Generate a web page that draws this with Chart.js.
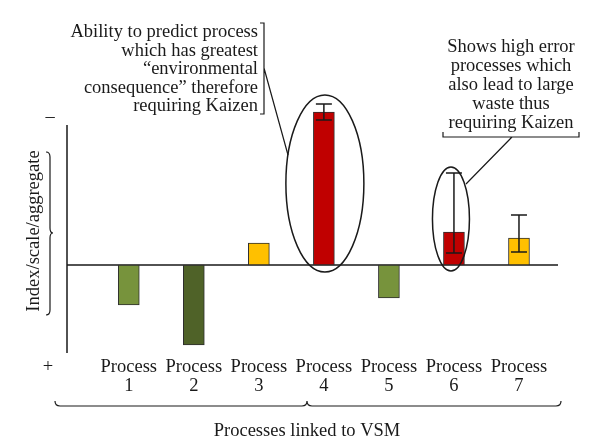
<!DOCTYPE html>
<html>
<head>
<meta charset="utf-8">
<script src="https://cdn.jsdelivr.net/npm/chart.js@4/dist/chart.umd.min.js"></script>
<style>
  html, body { margin: 0; padding: 0; background: #fff; }
  #wrap { width: 600px; height: 448px; }
</style>
</head>
<body>
<div id="wrap"><canvas id="vsmChart" width="600" height="448"></canvas></div>
<script>
// ** data (arbitrary index units, 0 = baseline)
const processes = ['1', '2', '3', '4', '5', '6', '7'];
const values = [-40, -80, 22, 153, -33, 33, 27];
const errLow = [null, null, null, 145, null, 12, 13];
const errHigh = [null, null, null, 161, null, 92, 50];
const barColors = ['#77933c', '#4f6228', '#ffc000', '#c00000', '#77933c', '#c00000', '#ffc000'];
const noteLeft = ['Ability to predict process', 'which has greatest', '\u201Cenvironmental', 'consequence\u201D therefore', 'requiring Kaizen'];
const noteRight = ['Shows high error', 'processes which', 'also lead to large', 'waste thus', 'requiring Kaizen'];
const yTitle = 'Index/scale/aggregate';
const xTitle = 'Processes linked to VSM';
const tickWord = 'Process';

const Y_MIN = -88, Y_MAX = 170, Y_AXIS_TOP = 140;
const FONT = '18.5px "Liberation Serif", "DejaVu Serif", serif';
const INK = '#1a1a1a';

// Function to draw the error whiskers, axis, callouts and texts
const decorations = {
    id: 'decorations',
    beforeDatasetsDraw(chart) {
        const { ctx, chartArea, scales } = chart;
        const y0 = scales.y.getPixelForValue(0);
        ctx.save();
        ctx.strokeStyle = INK;
        ctx.lineWidth = 1.5;
        ctx.beginPath();
        ctx.moveTo(chartArea.left, y0);
        ctx.lineTo(chartArea.right, y0);
        // vertical axis
        ctx.moveTo(chartArea.left, scales.y.getPixelForValue(Y_AXIS_TOP));
        ctx.lineTo(chartArea.left, scales.y.getPixelForValue(Y_MIN));
        ctx.stroke();
        ctx.restore();
    },
    afterDatasetsDraw(chart) {
        const { ctx, scales } = chart;
        const x = scales.x, y = scales.y;
        ctx.save();
        ctx.strokeStyle = INK;
        ctx.lineWidth = 1.5;

        // error bars
        values.forEach((v, i) => {
            if (errLow[i] == null) return;
            const px = x.getPixelForValue(i + 1);
            const lo = y.getPixelForValue(errLow[i]);
            const hi = y.getPixelForValue(errHigh[i]);
            ctx.beginPath();
            ctx.moveTo(px, lo); ctx.lineTo(px, hi);
            ctx.moveTo(px - 8, lo); ctx.lineTo(px + 8, lo);
            ctx.moveTo(px - 8, hi); ctx.lineTo(px + 8, hi);
            ctx.stroke();
        });

        // ellipses round process 4 and 6
        ctx.beginPath();
        ctx.ellipse(x.getPixelForValue(4) + 1, 183.5, 39, 88.5, 0, 0, Math.PI * 2);
        ctx.stroke();
        ctx.beginPath();
        ctx.ellipse(x.getPixelForValue(6) - 3, 219, 18.5, 52, 0, 0, Math.PI * 2);
        ctx.stroke();

        // callout brackets and leader lines
        ctx.lineWidth = 1.2;
        ctx.beginPath();
        ctx.moveTo(260, 23); ctx.lineTo(264, 23); ctx.lineTo(264, 114); ctx.lineTo(260, 114);
        ctx.moveTo(264, 68); ctx.lineTo(288, 155);
        ctx.moveTo(443, 132); ctx.lineTo(443, 137); ctx.lineTo(579, 137); ctx.lineTo(579, 132);
        ctx.moveTo(512, 137); ctx.lineTo(466, 184);
        ctx.stroke();

        // left brace "}"
        ctx.beginPath();
        ctx.moveTo(46, 152);
        ctx.quadraticCurveTo(50, 152, 50, 157);
        ctx.lineTo(50, 228);
        ctx.quadraticCurveTo(50, 233, 53, 233);
        ctx.quadraticCurveTo(50, 233, 50, 238);
        ctx.lineTo(50, 310);
        ctx.quadraticCurveTo(50, 315, 46, 315);
        ctx.stroke();

        // bottom brace
        ctx.beginPath();
        ctx.moveTo(55, 401);
        ctx.quadraticCurveTo(55, 406, 60, 406);
        ctx.lineTo(302, 406);
        ctx.quadraticCurveTo(307, 406, 307, 401);
        ctx.quadraticCurveTo(307, 406, 312, 406);
        ctx.lineTo(556, 406);
        ctx.quadraticCurveTo(561, 406, 561, 401);
        ctx.stroke();

        // texts
        ctx.fillStyle = INK;
        ctx.font = FONT;
        ctx.textBaseline = 'alphabetic';
        ctx.textAlign = 'right';
        noteLeft.forEach((t, i) => ctx.fillText(t, 258, 37 + i * 18.5));
        ctx.textAlign = 'center';
        noteRight.forEach((t, i) => ctx.fillText(t, 511, 52 + i * 19));

        processes.forEach((p, i) => {
            const px = x.getPixelForValue(i + 1);
            ctx.fillText(tickWord, px, 372);
            ctx.fillText(p, px, 391);
        });
        ctx.fillText(xTitle, 307, 436);
        ctx.fillText('\u2013', 50, 122);
        ctx.fillText('+', 48, 372);

        ctx.translate(34, 231);
        ctx.rotate(-Math.PI / 2);
        ctx.textBaseline = 'middle';
        ctx.fillText(yTitle, 0, 0);
        ctx.restore();
    }
};

const ctx = document.getElementById('vsmChart');
new Chart(ctx, {
    type: 'bar',
    data: {
        datasets: [{
            label: 'Index',
            data: values.map((v, i) => ({ x: i + 1, y: v })),
            backgroundColor: barColors,
            borderColor: '#2e2e2e',
            borderWidth: 1,
            borderSkipped: false,
            barThickness: 21
        }]
    },
    options: {
        responsive: false,
        animation: false,
        layout: { padding: { left: 67, right: 42, top: 95, bottom: 95 } },
        plugins: { legend: { display: false }, tooltip: { enabled: false } },
        scales: {
            x: { type: 'linear', min: 0.05, max: 7.6, offset: false, display: false },
            y: { min: Y_MIN, max: Y_MAX, display: false }
        }
    },
    plugins: [decorations]
});
</script>
</body>
</html>
